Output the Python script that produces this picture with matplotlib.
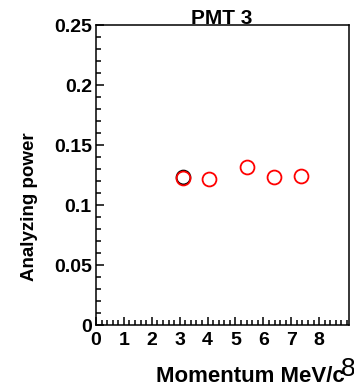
import matplotlib
matplotlib.use("Agg")
import matplotlib.pyplot as plt
from matplotlib.ticker import MultipleLocator

# data
momentum = [3.11, 4.06, 5.42, 6.38, 7.35]
power = [0.1226, 0.1214, 0.1314, 0.1231, 0.1245]
# black marker partly hidden under the first red one
black_x = [3.11]
black_y = [0.1232]

plt.rcParams['font.family'] = ['Liberation Sans', 'DejaVu Sans']

fig = plt.figure(figsize=(3.54, 3.86), dpi=100)
ax = fig.add_axes([96/354, 1-325/386, 253/354, 300/386])

ax.plot(black_x, black_y, 'o', mfc='none', mec='black', ms=10, mew=1.3)
ax.plot(momentum, power, 'o', mfc='none', mec='red', ms=10, mew=1.3)

ax.set_xlim(0, 9.07)
ax.set_ylim(0, 0.25)
ax.xaxis.set_minor_locator(MultipleLocator(0.2))
ax.yaxis.set_minor_locator(MultipleLocator(0.01))
ax.set_xticks([0, 1, 2, 3, 4, 5, 6, 7, 8])
ax.set_xticklabels(['0', '1', '2', '3', '4', '5', '6', '7', '8'])
ax.set_yticks([0, 0.05, 0.1, 0.15, 0.2, 0.25])
ax.set_yticklabels(['0', '0.05', '0.1', '0.15', '0.2', '0.25'])

ax.tick_params(which='both', direction='in', top=False, right=False, width=1.1)
ax.tick_params(which='major', length=6)
ax.tick_params(which='minor', length=3.5)
ax.tick_params(axis='y', labelsize=14, pad=3)
ax.tick_params(axis='x', labelsize=14, pad=5)
for lab in ax.get_xticklabels() + ax.get_yticklabels():
    lab.set_fontweight('bold')
for sp in ax.spines.values():
    sp.set_linewidth(1.1)

fig.text(222/354, 1-18/386, 'PMT 3', ha='center', va='center', fontsize=15, fontweight='bold')
fig.text(30/354, 1-207/386, 'Analyzing power', ha='center', va='center', rotation=90,
         fontsize=13.5, fontweight='bold')
fig.text(345/354, 1-377/386, 'Momentum MeV/c', ha='right', va='center', fontsize=16, fontweight='bold')
fig.text(348/354, 1-369/386, '8', ha='center', va='center', fontsize=19)

fig.savefig('out.png', dpi=100)
